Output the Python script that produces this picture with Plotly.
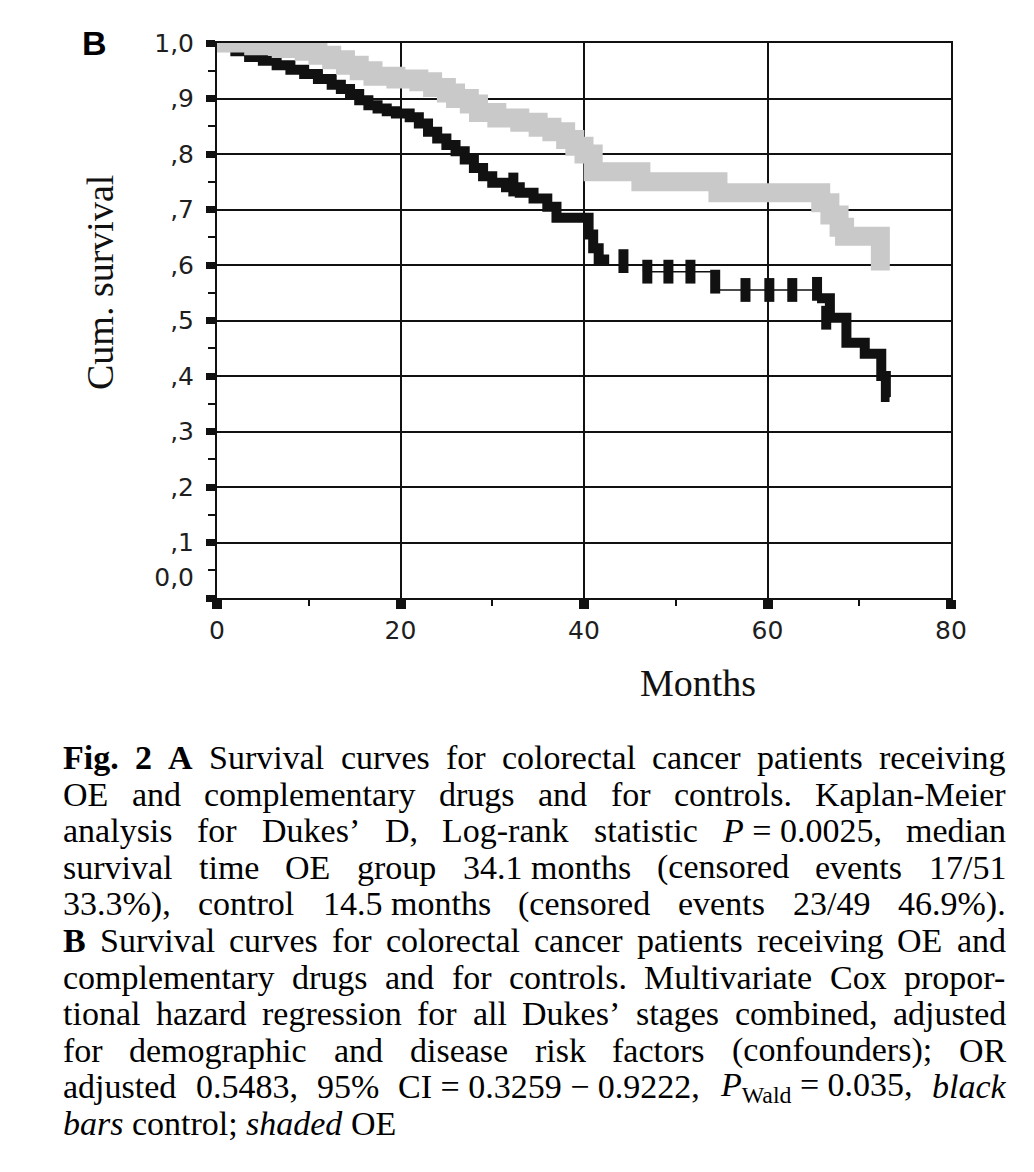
import plotly.graph_objects as go

# ------------------------------------------------------------------ data
month_ticks = [0, 20, 40, 60, 80]
month_minor = [10, 30, 50, 70]
surv_ticks = [0.0, 0.1, 0.2, 0.3, 0.4, 0.5, 0.6, 0.7, 0.8, 0.9, 1.0]
surv_minor = [0.05, 0.15, 0.25, 0.35, 0.45, 0.55, 0.65, 0.75, 0.85, 0.95]
surv_label_vals = [0.038, 0.1, 0.2, 0.3, 0.4, 0.5, 0.6, 0.7, 0.8, 0.9, 1.0]
surv_labels = ["0,0", ",1", ",2", ",3", ",4", ",5", ",6", ",7", ",8", ",9", "1,0"]

# OE group (shaded) - Kaplan-Meier step values
oe_t = [0, 4, 7, 9.5, 11, 12.5, 14, 15.5, 17, 19.5, 22, 23.5, 25, 26, 27.5,
        28.5, 30.5, 33, 35, 36.5, 38, 39, 40, 41, 46.2, 54.6, 65.8, 66.8,
        67.8, 68.4, 72.3]
oe_s = [1.0, 0.995, 0.99, 0.985, 0.978, 0.97, 0.96, 0.95, 0.94, 0.935, 0.93,
        0.92, 0.91, 0.90, 0.89, 0.875, 0.865, 0.857, 0.848, 0.84, 0.826,
        0.814, 0.80, 0.768, 0.75, 0.73, 0.712, 0.69, 0.668, 0.652, 0.59]

# Control group (black bars)
ctrl_t = [0, 2.0, 3.5, 5.0, 6.5, 8.0, 9.5, 11.0, 12.5, 13.5, 14.5, 15.5, 16.5,
          17.5, 18.5, 19.5, 21.0, 22.0, 23.0, 24.0, 25.0, 26.0, 27.0, 28.0,
          29.0, 30.0, 31.5, 33.0, 34.5, 36.0, 37.0, 40.5, 41.0, 41.6, 42.2,
          46.5, 54.0, 65.4, 66.8, 68.6, 70.6, 72.4, 72.9, 73.3]
ctrl_s = [1.0, 0.985, 0.975, 0.968, 0.96, 0.952, 0.944, 0.935, 0.925, 0.917,
          0.908, 0.897, 0.888, 0.882, 0.877, 0.873, 0.866, 0.855, 0.84, 0.828,
          0.816, 0.805, 0.79, 0.775, 0.76, 0.748, 0.74, 0.73, 0.72, 0.705,
          0.685, 0.655, 0.63, 0.61, 0.60, 0.588, 0.555, 0.54, 0.505, 0.46,
          0.44, 0.40, 0.362, 0.362]
# censored observations in the control group
ctrl_cens_t = [32.3, 44.3, 46.9, 49.2, 51.6, 54.3, 57.6, 60.2, 62.7, 65.4, 66.4]
ctrl_cens_s = [0.745, 0.607, 0.588, 0.588, 0.588, 0.57, 0.555, 0.555, 0.555,
               0.557, 0.505]

# ------------------------------------------------------------------ style
OFF = 8                      # default page margin of the html body
W, H = 1018, 1156
ML, MR, MT, MB = 209, 75, 35, 566
PW = W - ML - MR
PH = H - MT - MB
BLACK = "#111111"
GRAY = "#c9c9c9"
TICKFONT = dict(family="DejaVu Sans, Arial, sans-serif", size=25, color="#1e1e1e")
SERIF = "Liberation Serif, Times New Roman, serif"

fig = go.Figure()

# control: thin connecting step line
fig.add_trace(go.Scatter(x=ctrl_t, y=ctrl_s, mode="lines",
                         line=dict(shape="hv", color=BLACK, width=1.5),
                         hoverinfo="skip", showlegend=False))
# control: heavy parts of the curve (dense early part and the late tail)
early = [(t, s) for t, s in zip(ctrl_t, ctrl_s) if t <= 42.2]
late = [(t, s) for t, s in zip(ctrl_t, ctrl_s) if t >= 65.4]
for seg in (early, late):
    fig.add_trace(go.Scatter(x=[p[0] for p in seg], y=[p[1] for p in seg],
                             mode="lines",
                             line=dict(shape="hv", color=BLACK, width=10),
                             hoverinfo="skip", showlegend=False))
# control censor bars
fig.add_trace(go.Scatter(x=ctrl_cens_t, y=ctrl_cens_s, mode="markers",
                         marker=dict(symbol="line-ns", size=17,
                                     line=dict(color=BLACK, width=10)),
                         hoverinfo="skip", showlegend=False))
# OE shaded curve
fig.add_trace(go.Scatter(x=oe_t, y=oe_s, mode="lines",
                         line=dict(shape="hv", color=GRAY, width=19),
                         hoverinfo="skip", showlegend=False))
# carrier for the label axis
fig.add_trace(go.Scatter(x=[0], y=[0], yaxis="y2", mode="markers",
                         marker=dict(opacity=0), hoverinfo="skip",
                         showlegend=False))

fig.update_layout(
    width=W, height=H,
    margin=dict(l=ML, r=MR, t=MT, b=MB, pad=0),
    paper_bgcolor="white", plot_bgcolor="white",
    showlegend=False,
    xaxis=dict(range=[0, 80], tickmode="array", tickvals=month_ticks,
               ticktext=[str(v) for v in month_ticks],
               ticks="outside", ticklen=9, tickwidth=10, tickcolor=BLACK,
               showline=True, linecolor=BLACK, linewidth=2, mirror=True,
               showgrid=True, gridcolor=BLACK, gridwidth=2, zeroline=False,
               minor=dict(tickmode="array", tickvals=month_minor,
                          ticks="outside", ticklen=6, tickwidth=2,
                          tickcolor=BLACK, showgrid=False),
               tickfont=TICKFONT, ticklabelstandoff=0,
               layer="below traces", fixedrange=True),
    yaxis=dict(range=[0, 1.0], tickmode="array", tickvals=surv_ticks,
               showticklabels=False,
               ticks="outside", ticklen=9, tickwidth=7, tickcolor=BLACK,
               showline=True, linecolor=BLACK, linewidth=2, mirror=True,
               showgrid=True, gridcolor=BLACK, gridwidth=2, zeroline=False,
               minor=dict(tickmode="array", tickvals=surv_minor,
                          ticks="outside", ticklen=7, tickwidth=2,
                          tickcolor=BLACK, showgrid=False),
               layer="below traces", fixedrange=True),
    yaxis2=dict(range=[0, 1.0], overlaying="y", side="left", anchor="x",
                tickmode="array", tickvals=surv_label_vals,
                ticktext=surv_labels, ticks="", showgrid=False,
                showline=False, zeroline=False, tickfont=TICKFONT,
                ticklabelstandoff=22, fixedrange=True),
)


def px_x(px):
    return (px - OFF - ML) / PW


def px_y(py):
    return (MT + PH - (py - OFF)) / PH


# panel letter and axis titles
fig.add_annotation(x=px_x(95), y=px_y(43), xref="paper", yref="paper",
                   text="<b>B</b>", showarrow=False, xanchor="center",
                   yanchor="middle", borderpad=0,
                   font=dict(family="Liberation Sans, Arial, sans-serif",
                             size=34, color="black"))
fig.add_annotation(x=px_x(100), y=px_y(283), xref="paper", yref="paper",
                   text="Cum. survival", textangle=-90, showarrow=False,
                   xanchor="center", yanchor="middle", borderpad=0,
                   font=dict(family=SERIF, size=38, color="#111"))
fig.add_annotation(x=px_x(698), y=px_y(683), xref="paper", yref="paper",
                   text="Months", showarrow=False, xanchor="center",
                   yanchor="middle", borderpad=0,
                   font=dict(family=SERIF, size=38, color="#111"))

# ------------------------------------------------------------------ caption
caption_lines = [
    [[("Fig.", "b")], [("2", "b")], [("A", "b")], "Survival", "curves", "for",
     "colorectal", "cancer", "patients", "receiving"],
    ["OE", "and", "complementary", "drugs", "and", "for", "controls.",
     "Kaplan-Meier"],
    ["analysis", "for", "Dukes\u2019", "D,", "Log-rank", "statistic",
     [("P", "i"), (" = 0.0025,", "r")], "median"],
    ["survival", "time", "OE", "group", "34.1 months", "(censored", "events",
     "17/51"],
    ["33.3%),", "control", "14.5 months", "(censored", "events", "23/49",
     "46.9%)."],
    [[("B", "b")], "Survival", "curves", "for", "colorectal", "cancer",
     "patients", "receiving", "OE", "and"],
    ["complementary", "drugs", "and", "for", "controls.", "Multivariate",
     "Cox", "propor-"],
    ["tional", "hazard", "regression", "for", "all", "Dukes\u2019", "stages",
     "combined,", "adjusted"],
    ["for", "demographic", "and", "disease", "risk", "factors",
     "(confounders);", "OR"],
    ["adjusted", "0.5483,", "95%", "CI = 0.3259 \u2212 0.9222,",
     [("P", "i"), ("Wald", "sub"), (" = 0.035,", "r")], [("black", "i")]],
    [[("bars", "i")], "control;", [("shaded", "i")], "OE"],
]
justified = [True] * 10 + [False]

REG = {" ": 250, "%": 833, "\u2019": 333, "(": 333, ")": 333, ",": 250,
       "-": 333, ".": 250, "/": 278, ";": 278, "=": 564, "\u2212": 564,
       "A": 722, "B": 667, "C": 667, "D": 722, "E": 611, "F": 556, "I": 333,
       "K": 722, "L": 611, "M": 889, "O": 722, "P": 556, "R": 667, "S": 556,
       "W": 944, "a": 444, "b": 500, "c": 444, "d": 500, "e": 444, "f": 333,
       "g": 500, "h": 500, "i": 278, "j": 278, "k": 500, "l": 278, "m": 778,
       "n": 500, "o": 500, "p": 500, "q": 500, "r": 333, "s": 389, "t": 278,
       "u": 500, "v": 500, "w": 722, "x": 500, "y": 500, "z": 444}
for d in "0123456789":
    REG[d] = 500
BOLD = {"F": 611, "i": 278, "g": 500, ".": 250, "2": 500, "A": 722, "B": 667,
        " ": 250}
ITAL = {"P": 611, "b": 500, "l": 278, "a": 500, "c": 444, "k": 444, "r": 389,
        "s": 389, "h": 500, "d": 500, "e": 444}

CAP_SIZE = 34
CAP_LEFT, CAP_RIGHT = 62, 1005
CAP_BASE0, CAP_LEAD = 769, 36.6


def run_width(text, style):
    table = {"r": REG, "b": BOLD, "i": ITAL, "sub": REG}[style]
    scale = 0.7 if style == "sub" else 1.0
    return sum(table.get(c, 500) for c in text) / 1000.0 * scale


def run_html(text, style):
    if style == "b":
        return "<b>%s</b>" % text
    if style == "i":
        return "<i>%s</i>" % text
    if style == "sub":
        return "<sub>%s</sub>" % text
    return text


for i, line in enumerate(caption_lines):
    units = [[(u, "r")] if isinstance(u, str) else u for u in line]
    widths = [sum(run_width(t, s) for t, s in u) * CAP_SIZE for u in units]
    if justified[i]:
        gap = (CAP_RIGHT - CAP_LEFT - sum(widths)) / (len(units) - 1)
    else:
        gap = 0.25 * CAP_SIZE
    yc = CAP_BASE0 + i * CAP_LEAD - 0.34 * CAP_SIZE
    x = CAP_LEFT
    for u, w in zip(units, widths):
        fig.add_annotation(x=px_x(x), y=px_y(yc), xref="paper", yref="paper",
                           text="".join(run_html(t, s) for t, s in u),
                           showarrow=False, xanchor="left", yanchor="middle",
                           borderpad=0,
                           font=dict(family=SERIF, size=CAP_SIZE,
                                     color="black"))
        x += w + gap

fig.write_html("out.html")
